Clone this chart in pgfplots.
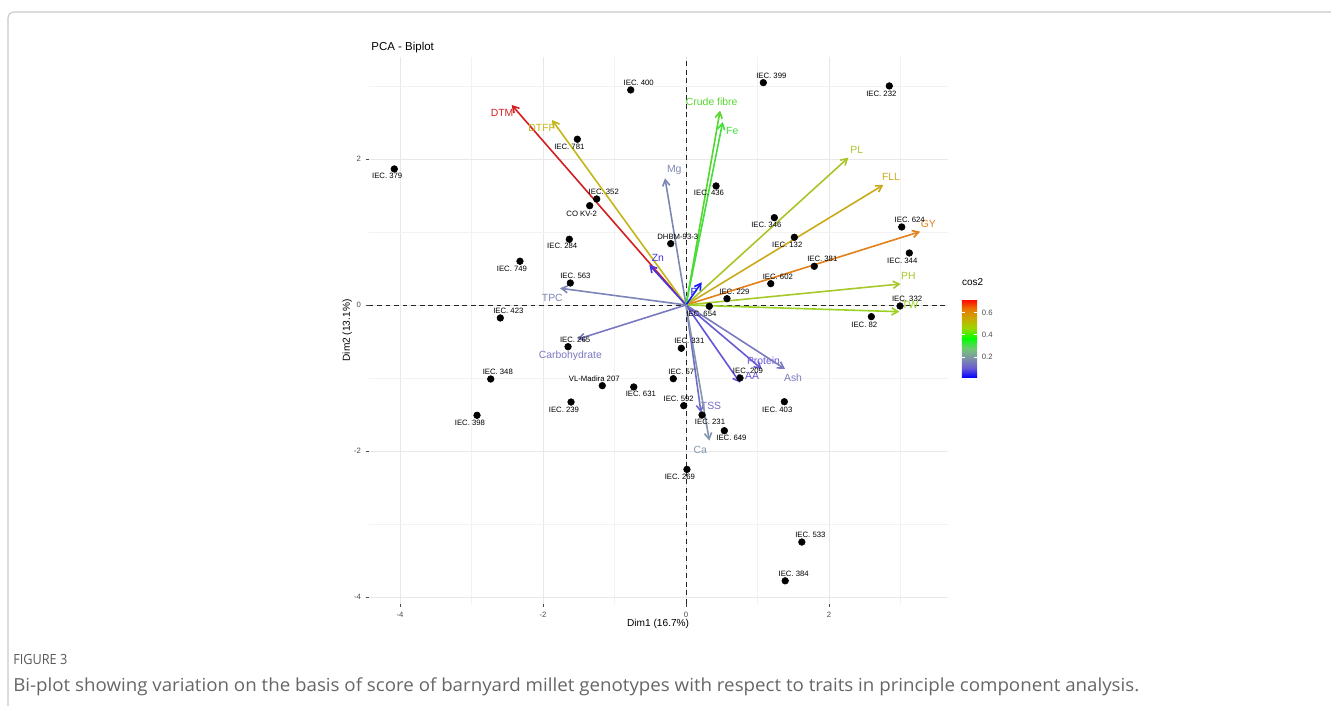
\documentclass[border=0pt]{standalone}
\usepackage{graphicx}
\usepackage{pgfplots}
\usepackage{pgfplotstable}
\pgfplotsset{compat=1.18}
\usepackage{fontspec}
\setmainfont{Liberation Sans}
\newfontfamily\capfont{Open Sans}
\usetikzlibrary{arrows.meta}

\definecolor{cDTM}{RGB}{212,30,32}
\definecolor{cDTFF}{RGB}{195,182,25}
\definecolor{cGY}{RGB}{226,128,25}
\definecolor{cFLL}{RGB}{203,170,25}
\definecolor{cPL}{RGB}{170,196,40}
\definecolor{cPH}{RGB}{166,200,40}
\definecolor{cTW}{RGB}{154,210,35}
\definecolor{cCF}{RGB}{85,215,45}
\definecolor{cFe}{RGB}{65,222,60}
\definecolor{cCa}{RGB}{130,150,172}
\definecolor{cMg}{RGB}{125,136,178}
\definecolor{cTPC}{RGB}{124,133,182}
\definecolor{cAsh}{RGB}{122,122,190}
\definecolor{cCarb}{RGB}{122,120,192}
\definecolor{cTSS}{RGB}{113,106,202}
\definecolor{cProt}{RGB}{104,90,212}
\definecolor{cAA}{RGB}{98,84,214}
\definecolor{cZn}{RGB}{72,52,222}
\definecolor{cP}{RGB}{22,28,238}

\pgfplotsset{colormap={cosmap}{rgb255=(0,0,255) rgb255=(107,91,211) rgb255=(126,147,166) rgb255=(111,202,115) rgb255=(0,255,0) rgb255=(152,215,0) rgb255=(201,171,0) rgb255=(232,119,0) rgb255=(255,0,0)}}

\pgfplotstableread{
x y dx dy label
-0.773 2.945 6 5.3 {IEC. 400}
1.081 3.045 6 5.3 {IEC. 399}
2.843 3.000 -6 -6 {IEC. 232}
-1.520 2.270 -6 -6 {IEC. 781}
-4.080 1.863 -5.3 -5.3 {IEC. 379}
-1.249 1.452 5.3 5.3 {IEC. 352}
-1.347 1.360 -6 -6 {CO KV-2}
-1.632 0.900 -5.3 -5.3 {IEC. 284}
-2.322 0.599 -6 -6 {IEC. 749}
-1.618 0.301 3.8 5.3 {IEC. 563}
-0.214 0.840 5.3 5.3 {DHBM-93-3}
-2.597 -0.178 6 5.3 {IEC. 423}
-1.650 -0.571 5.3 5.3 {IEC. 265}
-0.066 -0.593 6 5.3 {IEC. 331}
-2.731 -1.014 5.3 5.3 {IEC. 348}
-1.171 -1.105 -6 5.3 {VL-Madira 207}
-0.731 -1.123 5.3 -5.3 {IEC. 631}
-0.178 -1.010 6 5.3 {IEC. 57}
-0.032 -1.379 -3.8 5.3 {IEC. 592}
-1.608 -1.329 -5.3 -6 {IEC. 239}
-2.923 -1.511 -5.3 -6 {IEC. 398}
0.755 -1.000 6 5.3 {IEC. 209}
1.375 -1.325 -5.3 -6 {IEC. 403}
0.224 -1.507 6 -5.3 {IEC. 231}
0.536 -1.722 5.3 -5.3 {IEC. 649}
0.013 -2.252 -5.3 -5.5 {IEC. 269}
2.592 -0.160 -5.3 -6 {IEC. 82}
2.993 -0.014 5.3 5.3 {IEC. 332}
0.326 -0.018 -6 -6 {IEC. 654}
0.573 0.086 5.6 5.3 {IEC. 229}
0.420 1.630 -5.3 -5.3 {IEC. 436}
1.235 1.196 -6 -5.3 {IEC. 346}
1.515 0.927 -5.3 -6 {IEC. 132}
3.017 1.068 6 5.3 {IEC. 624}
3.123 0.712 -5.3 -6 {IEC. 344}
1.794 0.530 6 5.3 {IEC. 381}
1.185 0.292 5.3 5.3 {IEC. 602}
1.620 -3.247 6.4 5.5 {IEC. 533}
1.387 -3.778 6.4 5.5 {IEC. 384}
}\pts

\newcommand{\varrow}[6]{%
  \addplot[color=#1, line width=1.2pt, -{Straight Barb[length=4.6pt,width=5.4pt]}] coordinates {(0,0) (#2,#3)};
  \node[text=#1, font=\fontsize{7.8}{8}\selectfont, inner sep=0pt] at (axis cs:#4,#5) {#6};
}

\begin{document}
\begin{tikzpicture}
\path[use as bounding box] (0,0) rectangle (998.25pt,529.5pt);
\draw[black!22, line width=0.8pt, rounded corners=4pt] (6pt,-10pt) -- (6pt,520.5pt) -- (1010pt,520.5pt);
\begin{axis}[
  at={(276.4pt,76.8pt)}, anchor=south west,
  scale only axis, width=434.4pt, height=409.6pt,
  xmin=-4.44, xmax=3.66, ymin=-4.09, ymax=3.39,
  clip=false,
  axis line style={draw=none},
  xtick={-4,-2,0,2}, ytick={-4,-2,0,2},
  minor xtick={-3,-1,1,3}, minor ytick={-3,-1,1,3},
  grid=both,
  major grid style={draw=black!9, line width=0.55pt},
  minor grid style={draw=black!5, line width=0.3pt},
  tick pos=left, tick align=outside,
  major tick length=2.2pt, minor tick length=0pt,
  tick style={draw=black!70, line width=0.4pt},
  ticklabel style={font=\fontsize{5.8}{6}\selectfont, text=black!70},
  xticklabel style={yshift=-0.8pt},
  /pgf/number format/assume math mode=true,
  xlabel={Dim1 (16.7\%)}, ylabel={Dim2 (13.1\%)},
  every axis x label/.style={at={(axis description cs:0.5,-0.0374)}, anchor=center, font=\fontsize{7.6}{8}\selectfont},
  every axis y label/.style={at={(axis description cs:-0.0368,0.5)}, anchor=center, rotate=90, font=\fontsize{7.6}{8}\selectfont},
  title={PCA - Biplot},
  title style={at={(axis description cs:0,1)}, anchor=base west, yshift=-1pt, xshift=2pt, font=\fontsize{8.6}{9}\selectfont, inner sep=0pt},
  colormap name=cosmap,
  point meta min=0.012, point meta max=0.72,
  colorbar,
  colorbar style={
    at={(parent axis.east)}, anchor=west, xshift=2pt, yshift=-5.9pt,
    scale only axis, width=11.5pt, height=59pt,
    axis line style={draw=none},
    ytick={0.2,0.4,0.6},
    tick align=inside, major tick length=2.3pt,
    ytick style={draw=white, line width=0.5pt},
    yticklabel style={font=\fontsize{5.8}{6}\selectfont, text=black!70, /pgf/number format/fixed, /pgf/number format/precision=1, /pgf/number format/fixed zerofill, /pgf/number format/assume math mode=true},
    title={cos2},
    title style={at={(0,1)}, anchor=base west, yshift=4.5pt, font=\fontsize{7.5}{8}\selectfont, inner sep=0pt},
  },
]
\addplot[black!85, line width=0.5pt, dash pattern=on 3.6pt off 2.8pt] coordinates {(-4.44,0) (3.66,0)};
\addplot[black!85, line width=0.5pt, dash pattern=on 3.6pt off 2.8pt] coordinates {(0,-4.09) (0,3.39)};
\addplot[only marks, mark=*, mark size=2.5pt, mark options={draw=black, fill=black},
  point meta=explicit symbolic, nodes near coords,
  visualization depends on={\thisrow{dx}\as\dx},
  visualization depends on={\thisrow{dy}\as\dy},
  every node near coord/.append style={anchor=center, inner sep=0pt, xshift=\dx pt, yshift=\dy pt, font=\fontsize{5.8}{6}\selectfont, text=black}]
  table[x=x, y=y, meta=label] {\pts};
\varrow{cDTM}{-2.438}{2.740}{-2.573}{2.634}{DTM}
\varrow{cDTFF}{-1.874}{2.534}{-2.018}{2.429}{DTFF}
\varrow{cMg}{-0.294}{1.736}{-0.165}{1.849}{Mg}
\varrow{cZn}{-0.513}{0.548}{-0.394}{0.648}{Zn}
\varrow{cTPC}{-1.762}{0.229}{-1.870}{0.100}{TPC}
\varrow{cCarb}{-1.520}{-0.470}{-1.618}{-0.699}{Carbohydrate}
\varrow{cCF}{0.476}{2.662}{0.359}{2.777}{Crude fibre}
\varrow{cFe}{0.513}{2.507}{0.646}{2.388}{Fe}
\varrow{cPL}{2.270}{2.018}{2.387}{2.123}{PL}
\varrow{cFLL}{2.760}{1.644}{2.867}{1.749}{FLL}
\varrow{cGY}{3.273}{1.004}{3.389}{1.110}{GY}
\varrow{cPH}{3.002}{0.288}{3.110}{0.397}{PH}
\varrow{cTW}{2.983}{-0.092}{3.133}{0.0}{TW}
\varrow{cP}{0.219}{0.311}{0.112}{0.182}{P}
\varrow{cProt}{1.059}{-0.877}{1.084}{-0.767}{Protein}
\varrow{cAsh}{1.385}{-0.877}{1.497}{-0.991}{Ash}
\varrow{cAA}{0.755}{-1.064}{0.923}{-0.973}{AA}
\varrow{cTSS}{0.210}{-1.475}{0.350}{-1.384}{TSS}
\varrow{cCa}{0.326}{-1.858}{0.200}{-1.986}{Ca}
\end{axis}
\node[anchor=base west, inner sep=0pt, text=black!65] at (9.75pt,30.75pt) {\resizebox{40.5pt}{\height}{\capfont\fontsize{10.5}{12}\selectfont FIGURE 3}};
\node[anchor=base west, inner sep=0pt, text=black!60] at (9.75pt,10.5pt) {\resizebox{844.5pt}{\height}{\capfont\fontsize{13.5}{15}\selectfont Bi-plot showing variation on the basis of score of barnyard millet genotypes with respect to traits in principle component analysis.}};
\end{tikzpicture}
\end{document}
